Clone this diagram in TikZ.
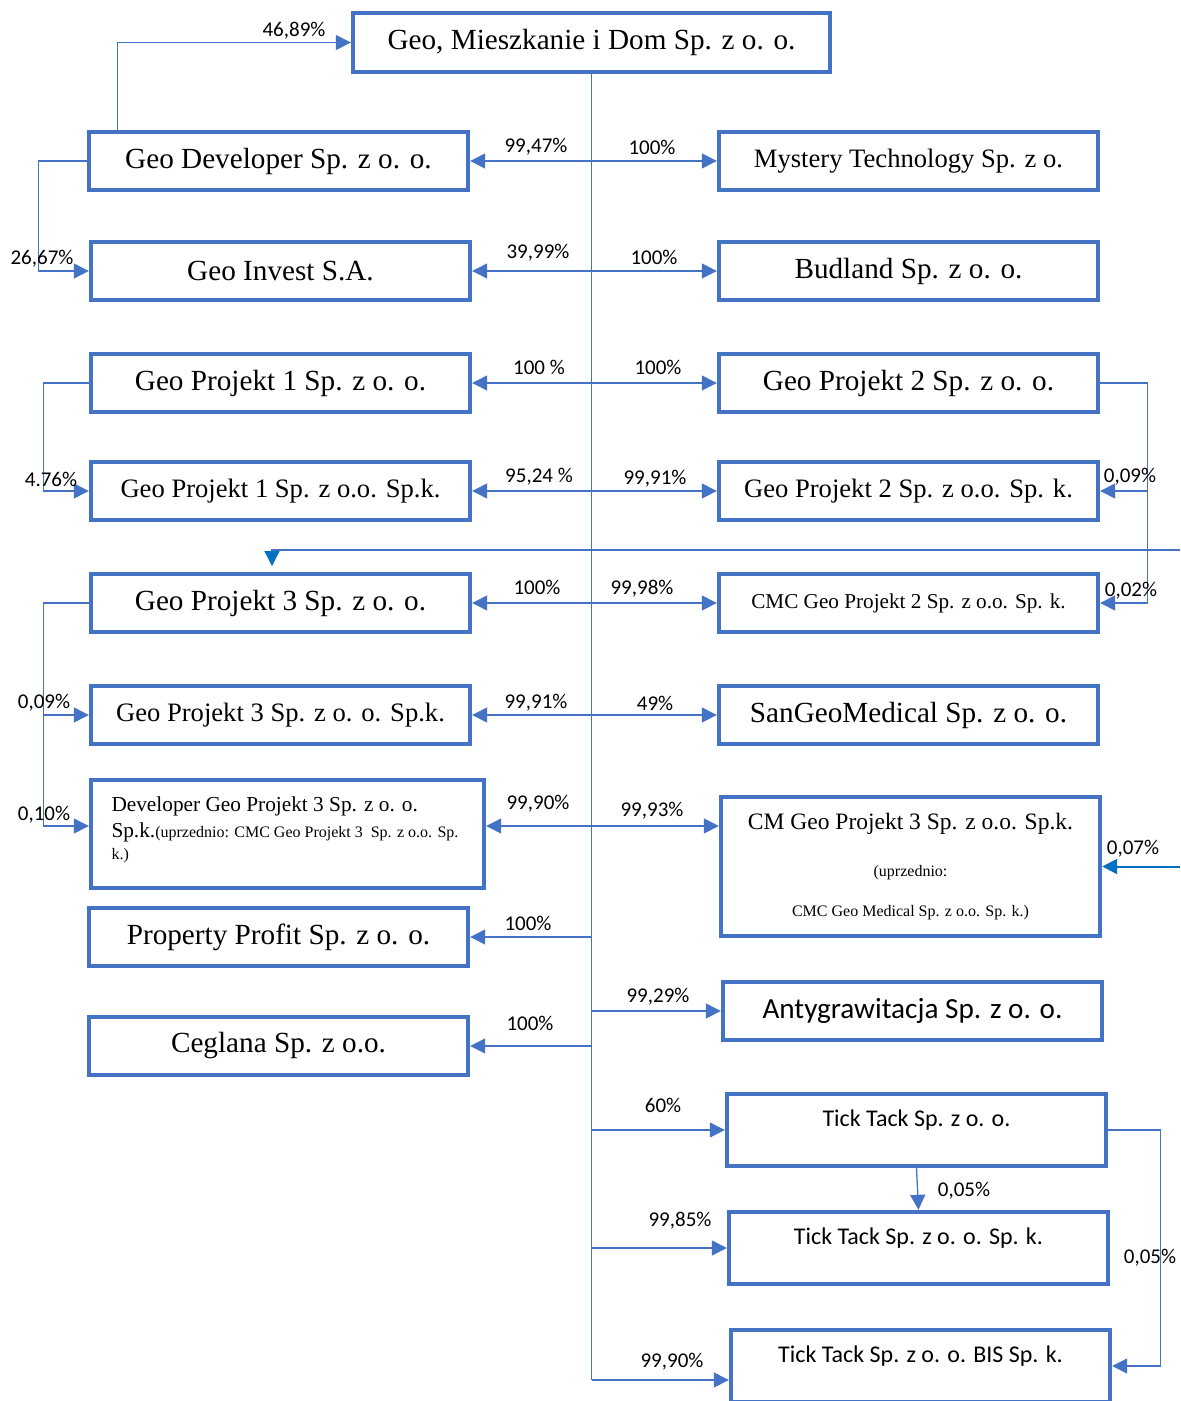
\documentclass[tikz,border=0pt]{standalone}
\usepackage{fontspec}
\setmainfont{Liberation Serif}
\newfontfamily\calibri{Carlito}
\usetikzlibrary{arrows.meta}
\definecolor{boxblue}{HTML}{4472C4}
\definecolor{arrowblue}{HTML}{0070C0}
\tikzset{
    company/.style = {draw = boxblue, line width = 2.2pt, minimum width = 189.5pt, minimum height = 29pt, inner sep = 0pt, font = \fontsize{14.6}{17}\selectfont},
    smaller/.style = {font = \fontsize{13.3}{16}\selectfont},
    sansbox/.style = {font = \calibri\fontsize{12}{14}\selectfont, text height = 8pt, text depth = 12pt},
    share/.style = {draw = boxblue, line width = 0.65pt, -{Triangle[length = 7.5pt, width = 7.5pt]}},
    both/.style = {share, {Triangle[length = 7.5pt, width = 7.5pt]}-{Triangle[length = 7.5pt, width = 7.5pt]}},
    pct/.style = {font = \calibri\fontsize{10.5}{12}\selectfont, inner sep = 0pt}
}
\begin{document}
\begin{tikzpicture}[x = 0.5pt, y = -0.5pt]
        \clip (0, 0) rectangle (1180, 1401);
        \fill [white] (0, 0) rectangle (1180, 1401);
        % companies
        \node [company, minimum width = 238.5pt, minimum height = 29.5pt] (gmd) at (591.5, 42.5) {Geo, Mieszkanie i Dom Sp. z o. o.};
        \node [company] (gdev) at (278.5, 161) {Geo Developer Sp. z o. o.};
        \node [company, smaller] (myst) at (908.5, 161) {Mystery Technology Sp. z o.};
        \node [company] (ginv) at (280.5, 271) {Geo Invest S.A.};
        \node [company] (bud) at (908.5, 271) {Budland Sp. z o. o.};
        \node [company] (gp1) at (280.5, 383) {Geo Projekt 1 Sp. z o. o.};
        \node [company] (gp2) at (908.5, 383) {Geo Projekt 2 Sp. z o. o.};
        \node [company, smaller] (gp1k) at (280.5, 491) {Geo Projekt 1 Sp. z o.o. Sp.k.};
        \node [company, smaller] (gp2k) at (908.5, 491) {Geo Projekt 2 Sp. z o.o. Sp. k.};
        \node [company] (gp3) at (280.5, 603) {Geo Projekt 3 Sp. z o. o.};
        \node [company, font = \fontsize{10.6}{13}\selectfont] (cmc2) at (908.5, 603) {CMC Geo Projekt 2 Sp. z o.o. Sp. k.};
        \node [company, smaller] (gp3k) at (280.5, 715) {Geo Projekt 3 Sp. z o. o. Sp.k.};
        \node [company] (sgm) at (908.5, 715) {SanGeoMedical Sp. z o. o.};
        \node [company, minimum width = 196.5pt, minimum height = 54pt, inner xsep = 10pt, inner ysep = 6pt] (dgp3) at (287.5, 834)
            {\parbox[c][42pt][t]{176pt}{\raggedright\fontsize{10.65}{11}\selectfont\vspace*{2.5pt}Developer Geo Projekt 3 Sp. z o. o.\\[2.5pt]
            Sp.k.{\fontsize{8}{10.5}\selectfont(uprzednio: CMC Geo Projekt 3\ \ Sp. z o.o. Sp.\\ k.)}}};
        \node [company, minimum height = 69.5pt, align = center] (cmgp3) at (910.5, 866.5)
            {{\fontsize{11.75}{14}\selectfont CM Geo Projekt 3 Sp. z o.o. Sp.k.}\\[6.5pt]
            {\fontsize{8}{10}\selectfont (uprzednio:}\\[3pt]
            {\fontsize{8}{10}\selectfont CMC Geo Medical Sp. z o.o. Sp. k.)}};
        \node [company] (prof) at (278.5, 937) {Property Profit Sp. z o. o.};
        \node [company, font = \calibri\fontsize{14.6}{17}\selectfont] (anty) at (912.5, 1011) {Antygrawitacja Sp. z o. o.};
        \node [company] (ceg) at (278.5, 1046) {Ceglana Sp. z o.o.};
        \node [company, sansbox, minimum height = 36pt] (tt) at (916.5, 1130) {Tick Tack Sp. z o. o.};
        \node [company, sansbox, minimum height = 36pt] (ttk) at (918.5, 1248) {Tick Tack Sp. z o. o. Sp. k.};
        \node [company, sansbox, minimum height = 36pt] (ttbis) at (920.5, 1366) {Tick Tack Sp. z o. o. BIS Sp. k.};
        % trunk from the parent
        \coordinate (tbis) at ([yshift = -7pt] ttbis.west);
        \coordinate (dmid) at ([yshift = 4pt] dgp3.east);
        \draw [boxblue, line width = 0.65pt] (gmd.south) -- (tbis -| gmd.south);
        \draw [both] (gdev) -- (myst);
        \draw [both] (ginv) -- (bud);
        \draw [both] (gp1) -- (gp2);
        \draw [both] (gp1k) -- (gp2k);
        \draw [both] (gp3) -- (cmc2);
        \draw [both] (gp3k) -- (sgm);
        \draw [both] (dmid) -- (dmid -| cmgp3.west);
        \draw [share] (prof.east -| gmd.south) -- (prof.east);
        \draw [share] (anty.west -| gmd.south) -- (anty.west);
        \draw [share] (ceg.east -| gmd.south) -- (ceg.east);
        \draw [share] (tt.west -| gmd.south) -- (tt.west);
        \draw [share] (ttk.west -| gmd.south) -- (ttk.west);
        \draw [share] (tbis -| gmd.south) -- (tbis);
        % side links
        \draw [share] ([xshift = 15.5pt] gdev.north west) |- (gmd.west);
        \draw [share] (gdev.west) -- ++(-48, 0) |- (ginv.west);
        \draw [share] (gp1.west) -- ++(-45, 0) |- (gp1k.west);
        \draw [share] (gp2.east) -- ++(47, 0) |- (gp2k.east);
        \draw [share] (gp2.east) -- ++(47, 0) |- (cmc2.east);
        \draw [share] (gp3.west) -- ++(-45, 0) |- (gp3k.west);
        \draw [share] (gp3.west) -- ++(-45, 0) |- ([yshift = 4pt] dgp3.west);
        \draw [share] (tt.south) -- (ttk.north);
        \draw [share] (tt.east) -- ++(52, 0) |- (ttbis.east);
        % links coming from outside
        \coordinate (edgeA) at (1180, 550);
        \coordinate (dropA) at (272, 566);
        \coordinate (edgeB) at (1180, 866.5);
        \draw [share, -{Triangle[length = 7.5pt, width = 7.5pt, color = arrowblue]}] (edgeA) -| (dropA);
        \draw [share, draw = arrowblue, line width = 1pt] (edgeB) -- (cmgp3.east);
        % shares
        \node [pct] at (294, 31) {46,89\%};
        \node [pct] at (536, 147) {99,47\%};
        \node [pct] at (652, 147) {100\%};
        \node [pct] at (42, 259) {26,67\%};
        \node [pct] at (538, 253) {39,99\%};
        \node [pct] at (654, 257) {100\%};
        \node [pct] at (539, 367) {100 \%};
        \node [pct] at (658, 367) {100\%};
        \node [pct] at (51, 479) {4.76\%};
        \node [pct] at (539, 477) {95,24 \%};
        \node [pct] at (655, 479) {99,91\%};
        \node [pct] at (1130, 477) {0,09\%};
        \node [pct] at (537, 587) {100\%};
        \node [pct] at (642, 589) {99,98\%};
        \node [pct] at (1131, 591) {0,02\%};
        \node [pct] at (44, 703) {0,09\%};
        \node [pct] at (536, 703) {99,91\%};
        \node [pct] at (655, 703) {49\%};
        \node [pct] at (44, 815) {0,10\%};
        \node [pct] at (538, 804) {99,90\%};
        \node [pct] at (652, 811) {99,93\%};
        \node [pct] at (1133, 849) {0,07\%};
        \node [pct] at (528, 923) {100\%};
        \node [pct] at (658, 997) {99,29\%};
        \node [pct] at (530, 1023) {100\%};
        \node [pct] at (663, 1105) {60\%};
        \node [pct] at (964, 1191) {0,05\%};
        \node [pct] at (680, 1221) {99,85\%};
        \node [pct] at (1150, 1258) {0,05\%};
        \node [pct] at (672, 1362) {99,90\%};
    \end{tikzpicture}
\end{document}
